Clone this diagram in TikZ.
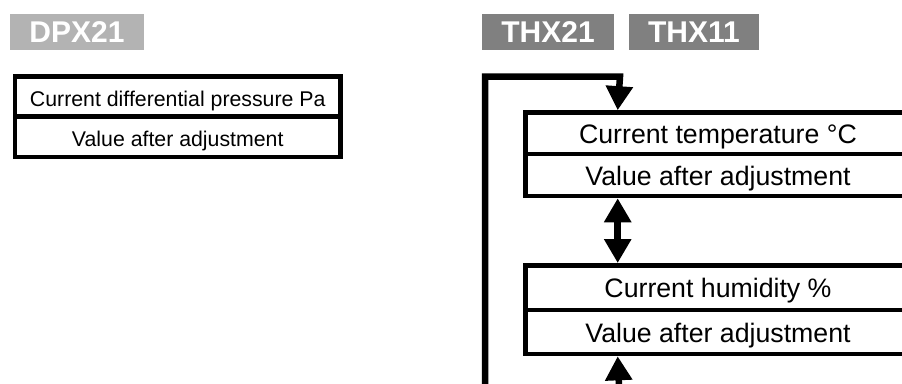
\documentclass[tikz,border=0pt]{standalone}
\usepackage{fontspec}
\setmainfont{Liberation Sans}
\usetikzlibrary{arrows.meta}
\definecolor{lightlab}{HTML}{B3B3B3}
\definecolor{darklab}{HTML}{808080}
\tikzset{bigtip/.tip={Triangle[length=24pt,width=26pt]}}
\begin{document}
\begin{tikzpicture}[x=1pt,y=-1pt,
  lab/.style={inner sep=0pt, minimum height=36pt, text=white,
    font=\fontsize{30}{33}\selectfont\bfseries, text height=21.4pt, text depth=0pt},
  cell/.style={draw, line width=4.6pt, inner sep=0pt, text height=20pt, text depth=0pt},
  smallcell/.style={cell, minimum width=325.5pt, minimum height=40.3pt,
    font=\fontsize{21.3}{24}\selectfont},
  bigcell/.style={cell, minimum width=385pt, font=\fontsize{26.7}{30}\selectfont},
  flow/.style={line width=6.5pt, line join=miter}
]
\useasboundingbox (0,0) rectangle (902,383);
\fill[white] (0,0) rectangle (902,383);
\clip (0,0) rectangle (902,383);

% labels
\node[lab, fill=lightlab, minimum width=134pt] (dpx) at (77,32) {DPX21};
\node[lab, fill=darklab, minimum width=132pt] (thx21) at (548,32) {THX21};
\node[lab, fill=darklab, minimum width=130pt] (thx11) at (694,32) {THX11};

% left box
\node[smallcell] (p1) at (177.75,96.5) {Current differential pressure Pa};
\node[smallcell] (p2) at (177.75,136.75) {Value after adjustment};

% right boxes
\node[bigcell, minimum height=41.5pt] (t1) at (718,133.25) {Current temperature °C};
\node[bigcell, minimum height=42pt] (t2) at (718,175) {Value after adjustment};
\node[bigcell, minimum height=44.7pt] (h1) at (718,287.65) {Current humidity \%};
\node[bigcell, minimum height=44pt] (h2) at (718,332) {Value after adjustment};

% connector points
\coordinate (t1in) at ([xshift=94.5pt]t1.north west);
\coordinate (t2out) at ([xshift=94.5pt]t2.south west);
\coordinate (h1in) at ([xshift=94.5pt]h1.north west);
\coordinate (h2in) at ([xshift=94.5pt]h2.south west);
\coordinate (loopstart) at (485,410);
\coordinate (loopcorner) at (485,76.7);
\coordinate (loopright) at (620,76.7);
\coordinate (bottomstart) at (620,410);

% connectors
\draw[flow, -{bigtip}] (loopstart) -- (loopcorner) -- (loopright) -- (t1in);
\draw[flow, {bigtip}-{bigtip}] (t2out) -- (h1in);
\draw[flow, -{bigtip}] (bottomstart) -- (h2in);
\end{tikzpicture}
\end{document}
